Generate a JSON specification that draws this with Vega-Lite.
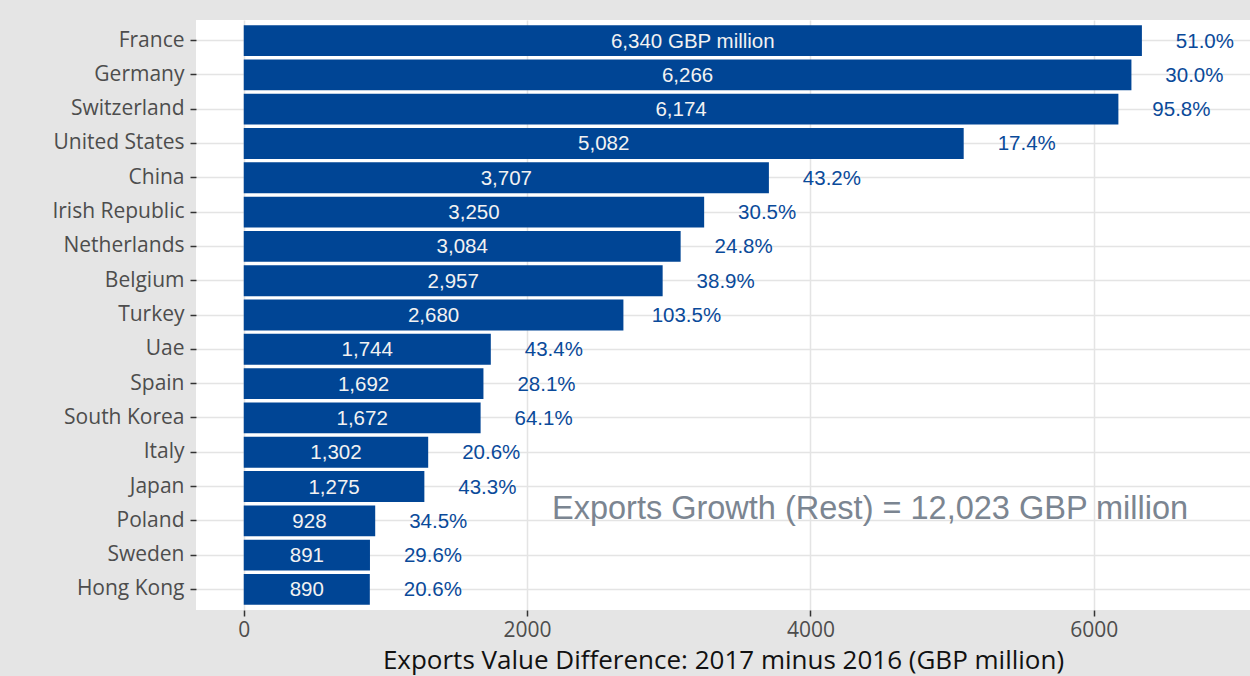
{
  "$schema": "https://vega.github.io/schema/vega-lite/v6.json",
  "width": 1054,
  "height": 590,
  "autosize": "none",
  "padding": {"left": 196, "top": 20, "right": 0, "bottom": 66},
  "background": "#e5e5e5",
  "config": {
    "view": {"fill": "white", "stroke": null},
    "axis": {
      "labelFont": "Open Sans",
      "titleFont": "Open Sans",
      "labelColor": "#4d4d4d",
      "labelFontSize": 21,
      "tickColor": "#333333",
      "tickSize": 6,
      "tickWidth": 1.5,
      "domain": false,
      "gridColor": "#e4e4e4",
      "gridWidth": 1.5
    }
  },
  "data": {
    "values": [
      {"country": "France", "value": 6340, "label": "6,340 GBP million", "pct": 0.510},
      {"country": "Germany", "value": 6266, "label": "6,266", "pct": 0.300},
      {"country": "Switzerland", "value": 6174, "label": "6,174", "pct": 0.958},
      {"country": "United States", "value": 5082, "label": "5,082", "pct": 0.174},
      {"country": "China", "value": 3707, "label": "3,707", "pct": 0.432},
      {"country": "Irish Republic", "value": 3250, "label": "3,250", "pct": 0.305},
      {"country": "Netherlands", "value": 3084, "label": "3,084", "pct": 0.248},
      {"country": "Belgium", "value": 2957, "label": "2,957", "pct": 0.389},
      {"country": "Turkey", "value": 2680, "label": "2,680", "pct": 1.035},
      {"country": "Uae", "value": 1744, "label": "1,744", "pct": 0.434},
      {"country": "Spain", "value": 1692, "label": "1,692", "pct": 0.281},
      {"country": "South Korea", "value": 1672, "label": "1,672", "pct": 0.641},
      {"country": "Italy", "value": 1302, "label": "1,302", "pct": 0.206},
      {"country": "Japan", "value": 1275, "label": "1,275", "pct": 0.433},
      {"country": "Poland", "value": 928, "label": "928", "pct": 0.345},
      {"country": "Sweden", "value": 891, "label": "891", "pct": 0.296},
      {"country": "Hong Kong", "value": 890, "label": "890", "pct": 0.206}
    ]
  },
  "encoding": {
    "y": {
      "field": "country",
      "type": "nominal",
      "sort": null,
      "scale": {
        "domain": ["France", "Germany", "Switzerland", "United States", "China", "Irish Republic", "Netherlands", "Belgium", "Turkey", "Uae", "Spain", "South Korea", "Italy", "Japan", "Poland", "Sweden", "Hong Kong"],
        "paddingInner": 0.1,
        "paddingOuter": 0.15
      },
      "axis": {"title": null, "labelPadding": 6, "grid": true}
    }
  },
  "resolve": {"scale": {"x": "independent"}, "axis": {"x": "independent"}},
  "layer": [
    {
      "mark": {"type": "bar", "color": "#004595"},
      "encoding": {
        "x": {
          "field": "value",
          "type": "quantitative",
          "scale": {"domain": [-337, 7103], "nice": false, "zero": false},
          "axis": {
            "values": [0, 2000, 4000, 6000],
            "format": "d",
            "title": "Exports Value Difference: 2017 minus 2016 (GBP million)",
            "titleFontSize": 26,
            "titleFontWeight": "normal",
            "titleColor": "#111111",
            "titlePadding": 7,
            "labelPadding": 3
          }
        }
      }
    },
    {
      "mark": {"type": "text", "font": "Liberation Sans", "fontSize": 20.5, "color": "#f2f2f2", "align": "center", "baseline": "middle", "dy": 1},
      "encoding": {
        "x": {
          "field": "value",
          "type": "quantitative",
          "scale": {"domain": [-674, 14206], "nice": false, "zero": false},
          "axis": null
        },
        "text": {"field": "label", "type": "nominal"}
      }
    },
    {
      "mark": {"type": "text", "font": "Liberation Sans", "fontSize": 20.5, "color": "#0a4a9a", "align": "center", "baseline": "middle", "dx": 63, "dy": 1},
      "encoding": {
        "x": {
          "field": "value",
          "type": "quantitative",
          "scale": {"domain": [-337, 7103], "nice": false, "zero": false},
          "axis": null
        },
        "text": {"field": "pct", "type": "quantitative", "format": ".1%"}
      }
    },
    {
      "data": {"values": [{"country": "Japan", "x": 4421, "text": "Exports Growth (Rest) = 12,023 GBP million"}]},
      "mark": {"type": "text", "font": "Liberation Sans", "fontSize": 32.5, "color": "#7b8591", "align": "center", "baseline": "middle", "dy": 22},
      "encoding": {
        "x": {
          "field": "x",
          "type": "quantitative",
          "scale": {"domain": [-337, 7103], "nice": false, "zero": false},
          "axis": null
        },
        "y": {"field": "country", "type": "nominal"},
        "text": {"field": "text", "type": "nominal"}
      }
    }
  ]
}
